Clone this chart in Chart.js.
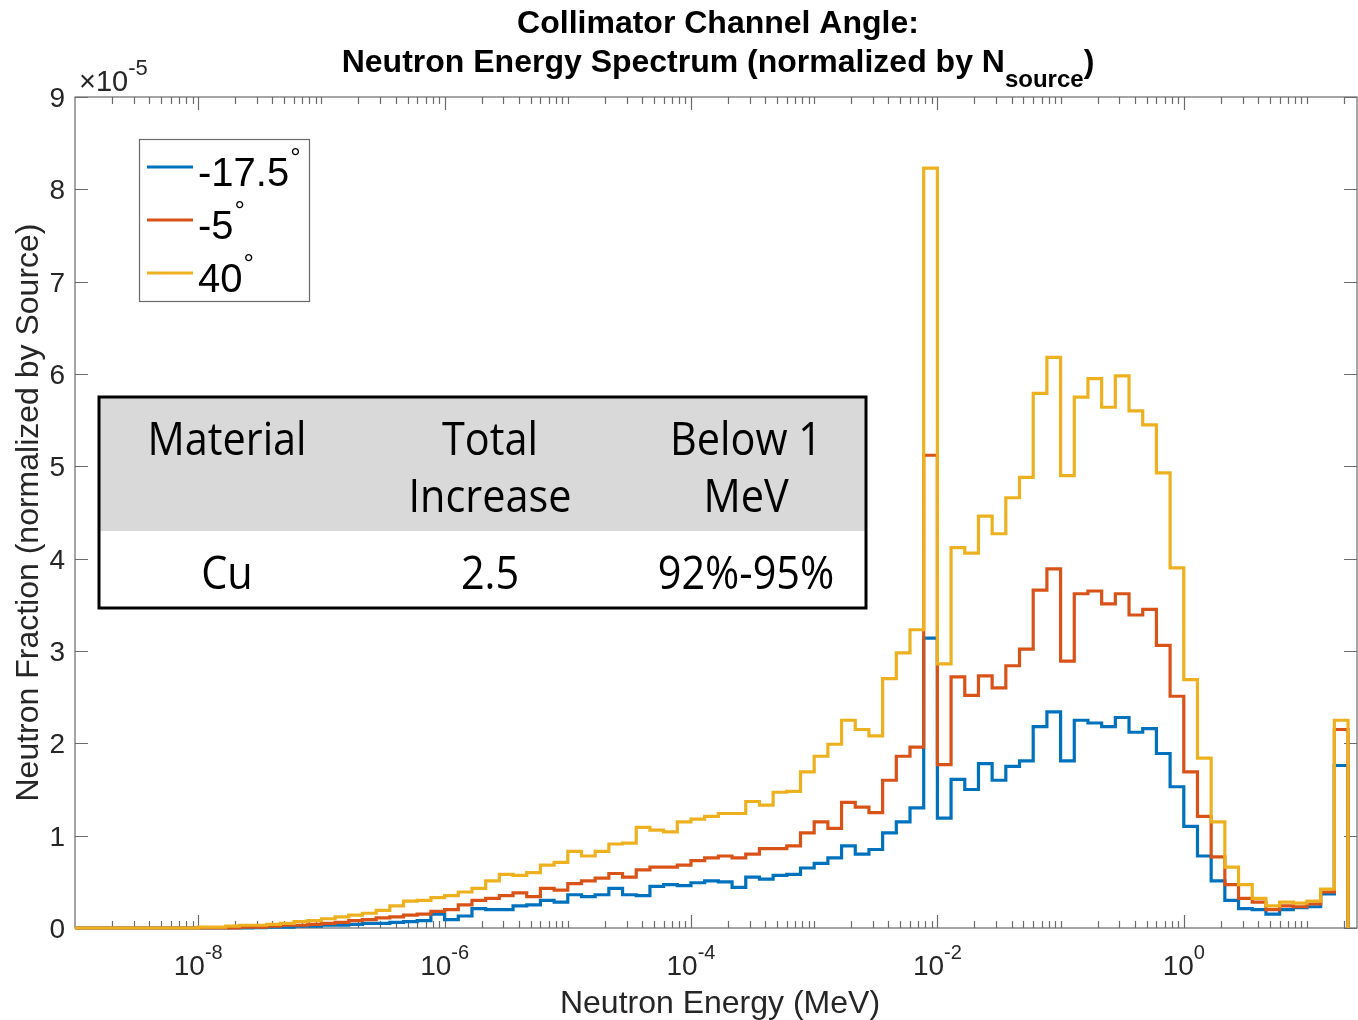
<!DOCTYPE html>
<html>
<head>
<meta charset="utf-8">
<title>Collimator Channel Angle: Neutron Energy Spectrum</title>
<script src="https://cdn.jsdelivr.net/npm/chart.js@4.4.1/dist/chart.umd.min.js"></script>
<style>
  html, body { margin: 0; padding: 0; background: #ffffff; }
  canvas { display: block; }
</style>
</head>
<body>
<canvas id="spectrum" width="1358" height="1020"></canvas>
<script>
// ---- Data -------------------------------------------------------------
// Histogram bins are logarithmic: 9 bins per decade, first edge at 1e-9 MeV.
const EDGE_EXP_START = -9;
const BINS_PER_DECADE = 9;

// Collimator channel angles (degrees), one series each.
const angles = [-17.5, -5, 40];

// Neutron fraction per bin, in units of 1e-5 (normalized by N_source).
const fractionM17_5 = [
  0, 0, 0, 0, 0, 0, 0, 0, 0, 0, 0, 0, 0,
  0.005, 0.01, 0.01, 0.02, 0.02, 0.03, 0.03, 0.04, 0.05, 0.05,
  0.06, 0.07, 0.08, 0.15, 0.09, 0.13, 0.21, 0.20, 0.20, 0.24,
  0.25, 0.30, 0.28, 0.36, 0.34, 0.36, 0.43, 0.36, 0.35, 0.45,
  0.47, 0.46, 0.49, 0.51, 0.50, 0.44, 0.55, 0.53, 0.57, 0.58,
  0.65, 0.70, 0.76, 0.89, 0.80, 0.85, 1.03, 1.15, 1.30, 3.14,
  1.19, 1.61, 1.50, 1.78, 1.60, 1.75, 1.81, 2.18, 2.34, 1.81,
  2.25, 2.22, 2.18, 2.28, 2.12, 2.16, 1.89, 1.53, 1.10, 0.78,
  0.51, 0.30, 0.21, 0.20, 0.15, 0.20, 0.22, 0.23, 0.37, 1.76
];
const fractionM5 = [
  0, 0, 0, 0, 0, 0, 0, 0, 0, 0, 0, 0,
  0.01,
  0.01, 0.02, 0.03, 0.03, 0.04, 0.05, 0.06, 0.08, 0.09, 0.11,
  0.12, 0.14, 0.15, 0.18, 0.20, 0.25, 0.30, 0.32, 0.35, 0.38,
  0.34, 0.43, 0.41, 0.48, 0.51, 0.54, 0.59, 0.55, 0.63, 0.66,
  0.66, 0.68, 0.73, 0.76, 0.78, 0.76, 0.80, 0.86, 0.86, 0.89,
  1.03, 1.15, 1.08, 1.36, 1.31, 1.25, 1.60, 1.86, 1.96, 5.12,
  1.77, 2.72, 2.52, 2.73, 2.60, 2.84, 3.02, 3.66, 3.89, 2.89,
  3.62, 3.65, 3.51, 3.62, 3.39, 3.45, 3.06, 2.51, 1.69, 1.21,
  0.77, 0.47, 0.32, 0.28, 0.20, 0.24, 0.23, 0.26, 0.39, 2.15
];
const fraction40 = [
  0, 0, 0, 0, 0, 0, 0, 0, 0,
  0.01, 0.01, 0.02, 0.03,
  0.03, 0.04, 0.05, 0.07, 0.08, 0.10, 0.12, 0.14, 0.16, 0.19,
  0.24, 0.29, 0.30, 0.33, 0.35, 0.39, 0.43, 0.51, 0.58, 0.57,
  0.60, 0.68, 0.71, 0.83, 0.78, 0.83, 0.91, 0.92, 1.09, 1.06,
  1.04, 1.15, 1.18, 1.21, 1.24, 1.24, 1.37, 1.33, 1.47, 1.48,
  1.69, 1.86, 1.99, 2.25, 2.15, 2.08, 2.70, 2.98, 3.23, 8.23,
  2.86, 4.12, 4.06, 4.46, 4.27, 4.66, 4.88, 5.79, 6.18, 4.90,
  5.75, 5.95, 5.64, 5.98, 5.60, 5.45, 4.93, 3.90, 2.69, 1.84,
  1.15, 0.66, 0.47, 0.32, 0.24, 0.28, 0.27, 0.29, 0.42, 2.25
];

// Axis ticks
const xLabelExponents = [-8, -6, -4, -2, 0];
const yTickValues = [0, 1, 2, 3, 4, 5, 6, 7, 8, 9];
const yMultiplierExponent = -5;

// Text
const titleLine1 = 'Collimator Channel Angle:';
const titleLine2 = 'Neutron Energy Spectrum (normalized by N';
const titleSub = 'source';
const xAxisTitle = 'Neutron Energy (MeV)';
const yAxisTitle = 'Neutron Fraction (normalized by Source)';

// Summary table
const tableHeader = [['Material'], ['Total', 'Increase'], ['Below 1', 'MeV']];
const tableRow = ['Cu', '2.5', '92%-95%'];

// ---- Styling ----------------------------------------------------------
const seriesColors = ['#0072BD', '#D95319', '#EDB120'];
const TEXT = '#262626';
const AXIS = '#6a6a6a';
const MFONT = '"Liberation Sans", Arial, Helvetica, sans-serif';
const TFONT = '"Open Sans", "Noto Sans", sans-serif';

// Build the stair outline of a histogram: value i is held from edge i to edge i+1,
// then the outline drops back to zero at the last edge.
function edge(i) { return Math.pow(10, EDGE_EXP_START + i / BINS_PER_DECADE); }
function stairs(values) {
  const pts = values.map((v, i) => ({ x: edge(i), y: v }));
  const last = edge(values.length);
  pts.push({ x: last, y: values[values.length - 1] });
  pts.push({ x: last, y: 0 });
  return pts;
}

const seriesValues = [fractionM17_5, fractionM5, fraction40];
const datasets = seriesValues.map((vals, i) => ({
  label: angles[i] + '°',
  data: stairs(vals),
  borderColor: seriesColors[i],
  backgroundColor: seriesColors[i],
  borderWidth: 3.2,
  stepped: 'before',
  pointRadius: 0,
  fill: false,
  clip: false,
  borderJoinStyle: 'miter',
  borderCapStyle: 'butt',
  order: seriesValues.length - 1 - i   // last series on top
}));

// ---- Drawing helpers --------------------------------------------------
function text(ctx, s, x, y, font, align, color) {
  ctx.font = font;
  ctx.textAlign = align || 'left';
  ctx.textBaseline = 'alphabetic';
  ctx.fillStyle = color || TEXT;
  ctx.fillText(s, x, y);
  return ctx.measureText(s).width;
}

// "10" with a raised exponent, centred on cx
function powerLabel(ctx, base, exp, cx, baseline, size, expSize, raise) {
  ctx.font = size + 'px ' + MFONT;
  const wb = ctx.measureText(base).width;
  ctx.font = expSize + 'px ' + MFONT;
  const we = ctx.measureText(exp).width;
  const x0 = cx - (wb + we) / 2;
  text(ctx, base, x0, baseline, size + 'px ' + MFONT, 'left');
  text(ctx, exp, x0 + wb, baseline - raise, expSize + 'px ' + MFONT, 'left');
}

function scaledText(ctx, s, cx, baseline, font, kx) {
  ctx.save();
  ctx.translate(cx, baseline);
  ctx.scale(kx, 1);
  ctx.font = font;
  ctx.textAlign = 'center';
  ctx.textBaseline = 'alphabetic';
  ctx.fillStyle = '#000000';
  ctx.fillText(s, 0, 0);
  ctx.restore();
}

const matlabAxes = {
  id: 'matlabAxes',
  beforeDatasetsDraw(chart) {
    const { ctx, chartArea: a, scales: { x, y } } = chart;
    ctx.save();
    ctx.strokeStyle = AXIS;
    ctx.lineWidth = 1.2;
    ctx.strokeRect(a.left, a.top, a.right - a.left, a.bottom - a.top);

    // logarithmic x ticks (inward, bottom and top)
    ctx.beginPath();
    for (let k = EDGE_EXP_START; k <= 2; k++) {
      for (let m = 1; m <= 9; m++) {
        const v = m * Math.pow(10, k);
        if (v < x.min * 1.0001 || v > x.max) continue;
        const px = Math.round(x.getPixelForValue(v)) + 0.5;
        const major = m === 1 && xLabelExponents.includes(k);
        const len = major ? 13 : 7;
        ctx.moveTo(px, a.bottom); ctx.lineTo(px, a.bottom - len);
        ctx.moveTo(px, a.top); ctx.lineTo(px, a.top + len);
      }
    }
    // linear y ticks (inward, left and right)
    yTickValues.forEach(t => {
      const py = Math.round(y.getPixelForValue(t)) + 0.5;
      ctx.moveTo(a.left, py); ctx.lineTo(a.left + 13, py);
      ctx.moveTo(a.right, py); ctx.lineTo(a.right - 13, py);
    });
    ctx.stroke();
    ctx.restore();
  },
  afterDatasetsDraw(chart) {
    const { ctx, chartArea: a, scales: { x, y } } = chart;
    ctx.save();

    // x tick labels
    xLabelExponents.forEach(e => {
      const px = x.getPixelForValue(Math.pow(10, e));
      powerLabel(ctx, '10', String(e), px, 975, 28, 20, 16);
    });
    // y tick labels
    yTickValues.forEach(t => {
      const py = y.getPixelForValue(t);
      text(ctx, String(t), a.left - 10, py + 10, '28px ' + MFONT, 'right');
    });
    // y multiplier
    const wx = text(ctx, '×10', a.left + 4, 91, '29px ' + MFONT, 'left');
    text(ctx, String(yMultiplierExponent), a.left + 4 + wx, 75, '22px ' + MFONT, 'left');

    // axis titles
    const cx = (a.left + a.right) / 2 + 2;
    text(ctx, xAxisTitle, cx + 2, 1013, '32px ' + MFONT, 'center');
    ctx.save();
    ctx.translate(38, (a.top + a.bottom) / 2);
    ctx.rotate(-Math.PI / 2);
    text(ctx, yAxisTitle, 0, 0, '32px ' + MFONT, 'center');
    ctx.restore();

    // title (two lines, bold, with subscript)
    const bold = 'bold 32px ' + MFONT;
    const subFont = 'bold 24px ' + MFONT;
    text(ctx, titleLine1, cx, 33, bold, 'center', '#000000');
    ctx.font = bold;
    const w1 = ctx.measureText(titleLine2).width;
    const wClose = ctx.measureText(')').width;
    ctx.font = subFont;
    const wSub = ctx.measureText(titleSub).width;
    const x0 = cx - (w1 + wSub + wClose) / 2;
    text(ctx, titleLine2, x0, 72, bold, 'left', '#000000');
    text(ctx, titleSub, x0 + w1, 87, subFont, 'left', '#000000');
    text(ctx, ')', x0 + w1 + wSub, 72, bold, 'left', '#000000');

    // legend
    const lg = { x: 139.5, y: 139.5, w: 170, h: 162 };
    ctx.fillStyle = '#ffffff';
    ctx.fillRect(lg.x, lg.y, lg.w, lg.h);
    ctx.strokeStyle = AXIS;
    ctx.lineWidth = 1.2;
    ctx.strokeRect(lg.x, lg.y, lg.w, lg.h);
    angles.forEach((ang, i) => {
      const ly = 167 + i * 53;
      ctx.strokeStyle = seriesColors[i];
      ctx.lineWidth = 3;
      ctx.beginPath();
      ctx.moveTo(147, ly); ctx.lineTo(193, ly);
      ctx.stroke();
      const w = text(ctx, String(ang), 198, ly + 19, '40px ' + MFONT, 'left', '#000000');
      text(ctx, '°', 198 + w + 1, ly - 1, '26px ' + MFONT, 'left', '#000000');
    });

    // summary table
    const tb = { l: 99, t: 397, r: 866, b: 608, split: 531 };
    ctx.fillStyle = '#ffffff';
    ctx.fillRect(tb.l, tb.t, tb.r - tb.l, tb.b - tb.t);
    ctx.fillStyle = '#d9d9d9';
    ctx.fillRect(tb.l, tb.t, tb.r - tb.l, tb.split - tb.t);
    ctx.strokeStyle = '#000000';
    ctx.lineWidth = 3;
    ctx.strokeRect(tb.l, tb.t, tb.r - tb.l, tb.b - tb.t);
    const colCenters = [227, 490, 746];
    const tf = '46px ' + TFONT;
    tableHeader.forEach((lines, c) => {
      lines.forEach((s, r) => scaledText(ctx, s, colCenters[c], 455 + r * 57, tf, 0.9));
    });
    tableRow.forEach((s, c) => scaledText(ctx, s, colCenters[c], 589, tf, 0.9));

    ctx.restore();
  }
};

new Chart(document.getElementById('spectrum'), {
  type: 'line',
  data: { datasets },
  options: {
    responsive: false,
    devicePixelRatio: 1,
    animation: false,
    layout: { padding: { left: 75, top: 97, right: 1, bottom: 92 } },
    plugins: {
      legend: { display: false },
      tooltip: { enabled: false },
      title: { display: false }
    },
    elements: { point: { radius: 0 }, line: { tension: 0 } },
    scales: {
      x: { type: 'logarithmic', display: false, min: 1e-9, max: Math.pow(10, 1.406) },
      y: { type: 'linear', display: false, min: 0, max: 9 }
    }
  },
  plugins: [matlabAxes]
});
</script>
</body>
</html>
